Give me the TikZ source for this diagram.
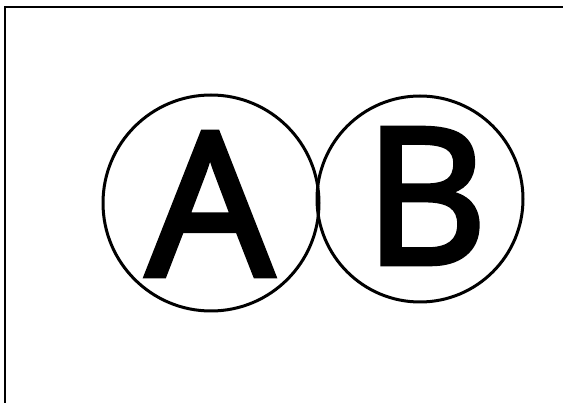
\documentclass[tikz,border=0pt]{standalone}
\usepackage{fontspec}
\setmainfont{Open Sans}
\newfontfamily\letterfont[FakeBold=3]{Open Sans}
\usetikzlibrary{positioning}

\begin{document}
\begin{tikzpicture}[x=1pt,y=-1pt,
    ring/.style={draw, circle, line width=3pt, inner sep=0pt},
    letter/.style={inner sep=0pt}]

% --- canvas and the cropped frame (top and left edges only) ---
\useasboundingbox (0,0) rectangle (563,403);
\draw[line width=2.6pt] (5,403) -- (5,7) -- (563,7);

% --- the two touching circles ---
\node[ring, minimum size=216pt] (ringA) at (211,203) {};
\node[ring, minimum size=206pt] (ringB) at (420,199) {};

% --- letters ---
\node[letter] (A) at (210,204) {\letterfont\fontsize{199}{199}\selectfont A};
\node[letter] (B) at (426,196) {\letterfont\fontsize{189}{189}\selectfont B};

\end{tikzpicture}
\end{document}
